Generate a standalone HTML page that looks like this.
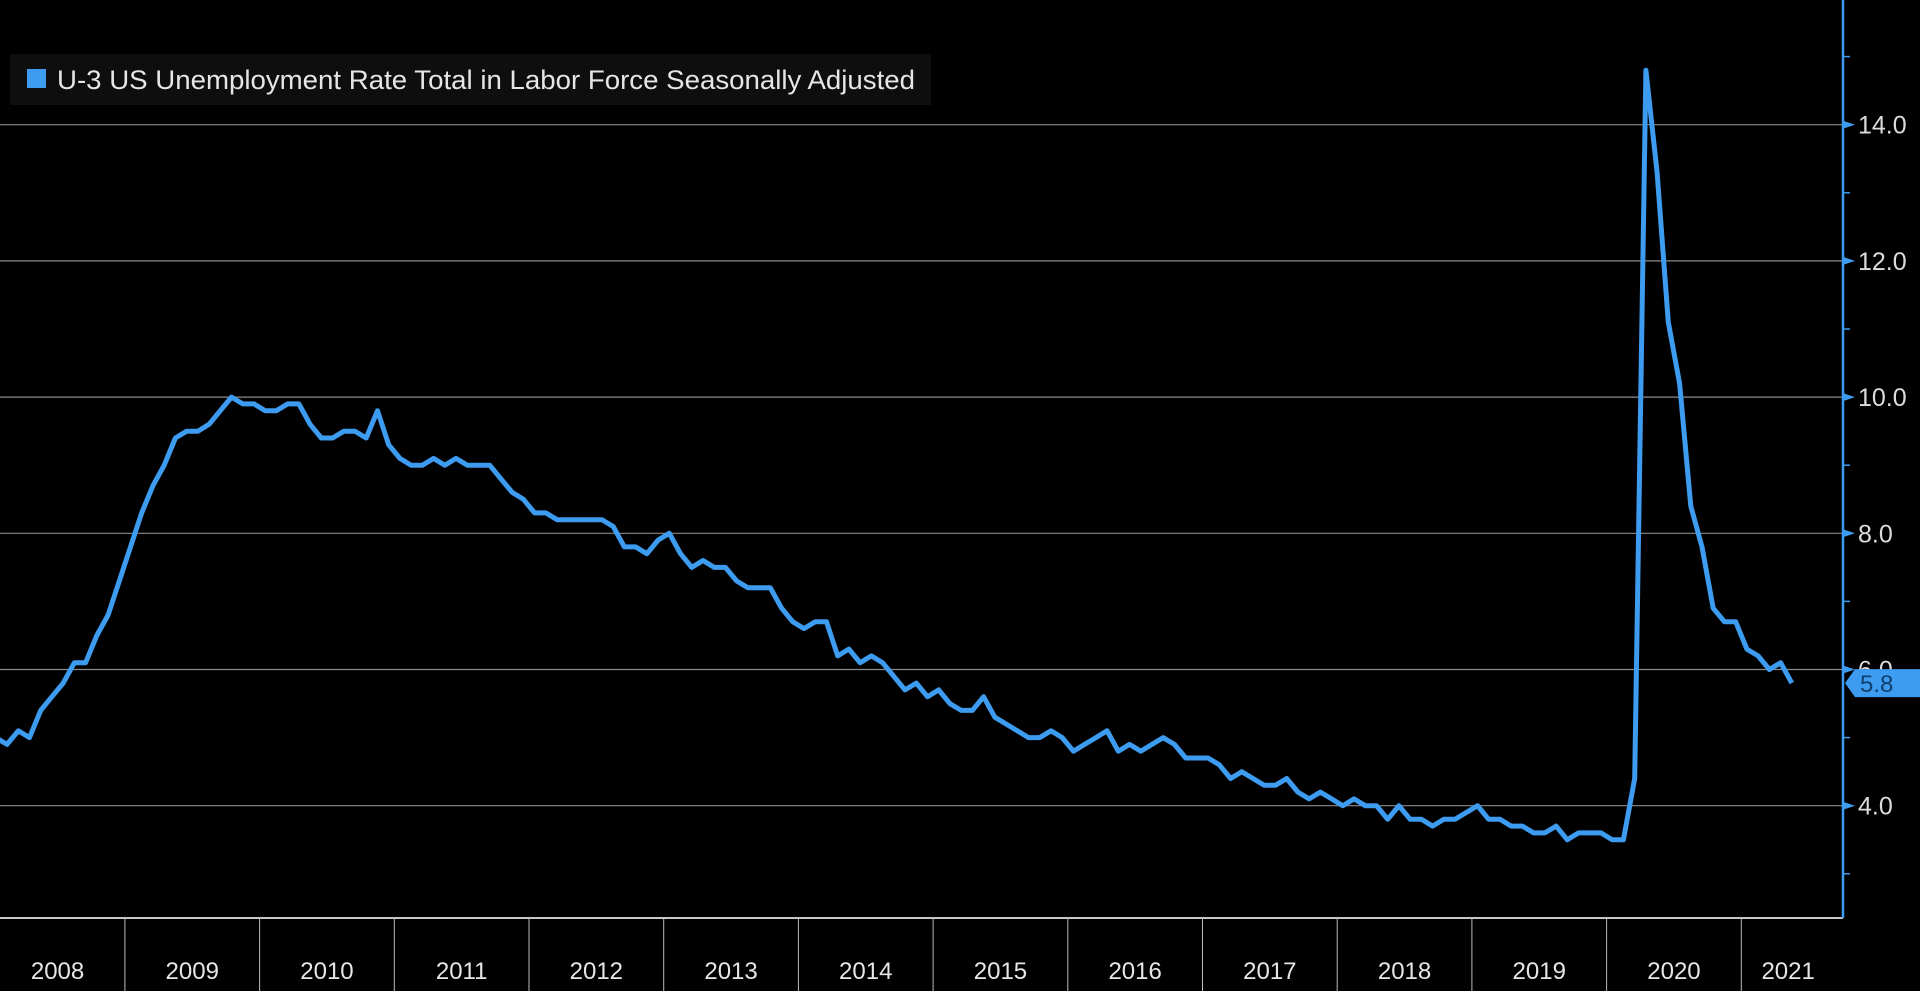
<!DOCTYPE html>
<html><head><meta charset="utf-8"><style>
html,body{margin:0;padding:0;background:#000;width:1920px;height:991px;overflow:hidden}
svg{display:block}
</style></head><body>
<svg id="chart" width="1920" height="991" xmlns="http://www.w3.org/2000/svg" font-family="'Liberation Sans Narrow','Liberation Sans',sans-serif">
<rect width="1920" height="991" fill="#000"/>
<g id="grid"></g>
<g id="xaxis"></g>
<g id="yaxis"></g>
<g id="series"></g>
<g>
<rect x="10" y="54" width="921" height="51" fill="#0e0e0e"/>
<rect x="27" y="69" width="19" height="19" fill="#3d9bf0"/>
<text x="57" y="89" font-size="27" fill="#e6e6e6" textLength="858" lengthAdjust="spacingAndGlyphs">U-3 US Unemployment Rate Total in Labor Force Seasonally Adjusted</text>
</g>
</svg>
<script>
const years=["2008","2009","2010","2011","2012","2013","2014","2015","2016","2017","2018","2019","2020","2021"];
const yTicks=[4,6,8,10,12,14];
const yTickLabels=["4.0","6.0","8.0","10.0","12.0","14.0"];
const minorTicks=[3,5,7,9,11,13,15];
const rates=[
5.0,4.9,5.1,5.0,5.4,5.6,5.8,6.1,6.1,6.5,6.8,7.3,
7.8,8.3,8.7,9.0,9.4,9.5,9.5,9.6,9.8,10.0,9.9,9.9,
9.8,9.8,9.9,9.9,9.6,9.4,9.4,9.5,9.5,9.4,9.8,9.3,
9.1,9.0,9.0,9.1,9.0,9.1,9.0,9.0,9.0,8.8,8.6,8.5,
8.3,8.3,8.2,8.2,8.2,8.2,8.2,8.1,7.8,7.8,7.7,7.9,
8.0,7.7,7.5,7.6,7.5,7.5,7.3,7.2,7.2,7.2,6.9,6.7,
6.6,6.7,6.7,6.2,6.3,6.1,6.2,6.1,5.9,5.7,5.8,5.6,
5.7,5.5,5.4,5.4,5.6,5.3,5.2,5.1,5.0,5.0,5.1,5.0,
4.8,4.9,5.0,5.1,4.8,4.9,4.8,4.9,5.0,4.9,4.7,4.7,
4.7,4.6,4.4,4.5,4.4,4.3,4.3,4.4,4.2,4.1,4.2,4.1,
4.0,4.1,4.0,4.0,3.8,4.0,3.8,3.8,3.7,3.8,3.8,3.9,
4.0,3.8,3.8,3.7,3.7,3.6,3.6,3.7,3.5,3.6,3.6,3.6,
3.5,3.5,4.4,14.8,13.3,11.1,10.2,8.4,7.8,6.9,6.7,6.7,
6.3,6.2,6.0,6.1,5.8];
const lastLabel="5.8";

const NS="http://www.w3.org/2000/svg";
const X0=-9.8, YEARW=134.7, AXX=1843, BOT=918;
const xm=i=>X0+(i+0.5)*YEARW/12;
const y=v=>805.7-(v-4)*68.1;
function mk(tag,attrs,parent){const e=document.createElementNS(NS,tag);for(const k in attrs)e.setAttribute(k,attrs[k]);parent.appendChild(e);return e;}
const grid=document.getElementById('grid'),xa=document.getElementById('xaxis'),ya=document.getElementById('yaxis'),se=document.getElementById('series');

yTicks.forEach((v,i)=>{
 const l=mk('line',{x1:0,x2:AXX,y1:y(v),y2:y(v),stroke:'#8a8a8a','stroke-width':1.2},grid);
 
 
 const t=mk('polygon',{points:`${AXX},${y(v)-4} ${AXX+12},${y(v)} ${AXX},${y(v)+4}`,fill:'#3d9bf0'},ya);
 
 
 const tx=mk('text',{x:1858,y:y(v)+9,'font-size':25,fill:'#dcdcdc'},ya);
 tx.textContent=yTickLabels[i];
 
 
});
minorTicks.forEach(v=>{
 const m=mk('line',{x1:AXX,x2:AXX+7,y1:y(v),y2:y(v),stroke:'#3d9bf0','stroke-width':1.5},ya);
 
 
});
const axl=mk('line',{x1:AXX,x2:AXX,y1:0,y2:BOT,stroke:'#3d9bf0','stroke-width':2.5},ya);



const bl=mk('line',{x1:0,x2:AXX,y1:BOT,y2:BOT,stroke:'#c8c8c8','stroke-width':2},xa);


years.forEach((yr,i)=>{
 const s=X0+i*YEARW;
 if(i>0){const d=mk('line',{x1:s,x2:s,y1:BOT,y2:991,stroke:'#bbbbbb','stroke-width':1},xa);
  
  }
 const w=(i===years.length-1)?(AXX-s):YEARW;
 const t=mk('text',{x:s+Math.min(w,YEARW)/2+(i===years.length-1?-4:0),y:979,'font-size':24,fill:'#e6e6e6','text-anchor':'middle'},xa);
 t.textContent=yr;
 
 
});

const pts=rates.map((v,i)=>xm(i).toFixed(1)+','+y(v).toFixed(1)).join(' ');
const pl=mk('polyline',{points:pts,fill:'none',stroke:'#3d9bf0','stroke-width':5,'stroke-linejoin':'round'},se);



const lv=rates[rates.length-1], ly=y(lv);
const box=mk('polygon',{points:`${AXX+2},${ly} ${AXX+12},${ly-14} 1920,${ly-14} 1920,${ly+14} ${AXX+12},${ly+14}`,fill:'#3d9bf0'},ya);


const lt=mk('text',{x:1860,y:ly+9,'font-size':24,fill:'#10406e'},ya);
lt.textContent=lastLabel;


</script>
</body></html>
